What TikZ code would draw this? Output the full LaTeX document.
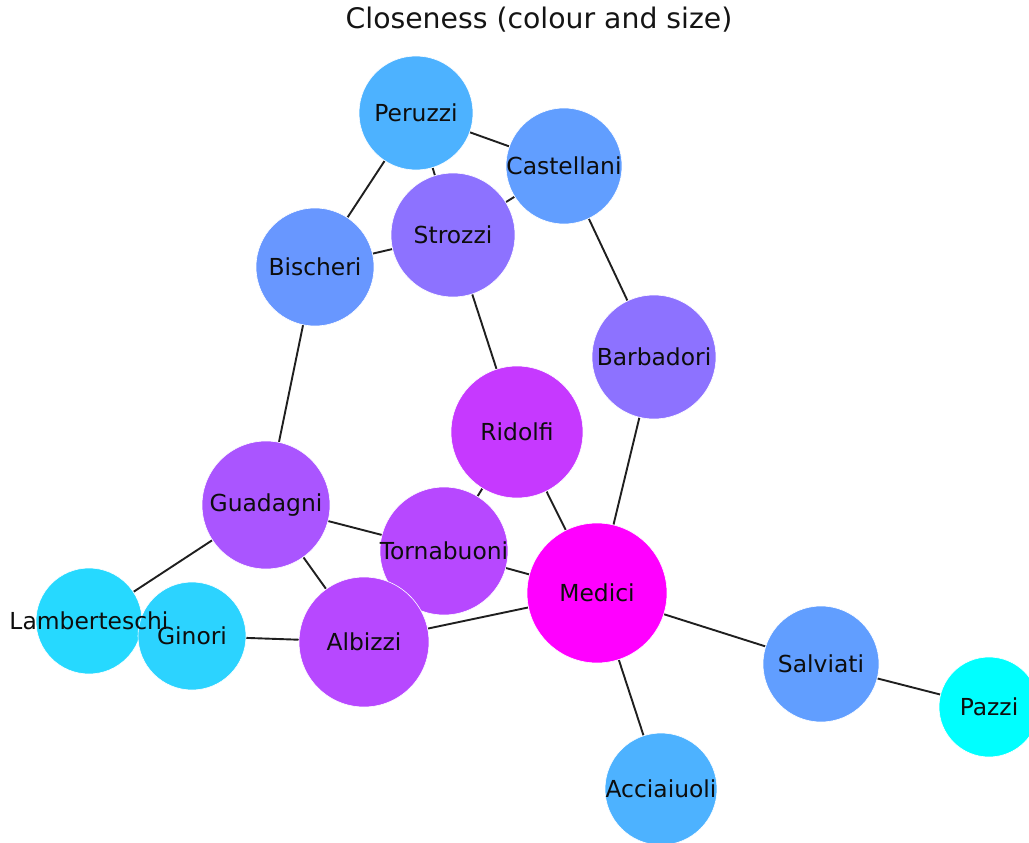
\documentclass[tikz,border=0pt]{standalone}
\usepackage{fontspec}
\setmainfont{DejaVu Sans}
\usetikzlibrary{backgrounds}

% node colours from the "cool" colour map (cyan -> magenta)
\definecolor{cAcciaiuoli}{RGB}{77,178,255}
\definecolor{cAlbizzi}{RGB}{183,72,255}
\definecolor{cBarbadori}{RGB}{141,114,255}
\definecolor{cBischeri}{RGB}{104,151,255}
\definecolor{cCastellani}{RGB}{97,158,255}
\definecolor{cGinori}{RGB}{44,211,255}
\definecolor{cGuadagni}{RGB}{170,85,255}
\definecolor{cLamberteschi}{RGB}{38,217,255}
\definecolor{cMedici}{RGB}{255,0,255}
\definecolor{cPazzi}{RGB}{0,255,255}
\definecolor{cPeruzzi}{RGB}{77,178,255}
\definecolor{cRidolfi}{RGB}{198,57,255}
\definecolor{cSalviati}{RGB}{97,158,255}
\definecolor{cStrozzi}{RGB}{141,114,255}
\definecolor{cTornabuoni}{RGB}{183,72,255}

\tikzset{
  fam/.style={circle, inner sep=0pt, minimum size=#1, draw=white, line width=0.6pt},
  famlabel/.style={inner sep=0pt, text=black!95, font=\fontsize{23.4}{28}\selectfont},
  edge/.style={line width=1.9pt, black!88},
}

\begin{document}
\begin{tikzpicture}[x=1pt, y=-1pt]
\useasboundingbox (0,0) rectangle (1029,843);

% title
\node[inner sep=0pt, font=\fontsize{28.3}{34}\selectfont, text=black!92] (title) at (539,20) {Closeness (colour and size)};

% family circles
\node[fam=112pt, fill=cAcciaiuoli]   (Acciaiuoli)   at (661,789) {};
\node[fam=140pt, fill=cMedici]       (Medici)       at (597,593) {};
\node[fam=116pt, fill=cCastellani]   (Castellani)   at (564,166) {};
\node[fam=114pt, fill=cPeruzzi]      (Peruzzi)      at (416,113) {};
\node[fam=124pt, fill=cStrozzi]      (Strozzi)      at (453,235) {};
\node[fam=124pt, fill=cBarbadori]    (Barbadori)    at (654,357) {};
\node[fam=132pt, fill=cRidolfi]      (Ridolfi)      at (517,432) {};
\node[fam=128pt, fill=cTornabuoni]   (Tornabuoni)   at (444,551) {};
\node[fam=130pt, fill=cAlbizzi]      (Albizzi)      at (364,642) {};
\node[fam=116pt, fill=cSalviati]     (Salviati)     at (821,664) {};
\node[fam=100pt, fill=cPazzi]        (Pazzi)        at (989,707) {};
\node[fam=118pt, fill=cBischeri]     (Bischeri)     at (315,267) {};
\node[fam=128pt, fill=cGuadagni]     (Guadagni)     at (266,505) {};
\node[fam=106pt, fill=cLamberteschi] (Lamberteschi) at (89,621) {};
\node[fam=108pt, fill=cGinori]       (Ginori)       at (192,636) {};

% marriage ties, kept behind the circles
\begin{scope}[on background layer]
\draw[edge] (Peruzzi) -- (Castellani);
\draw[edge] (Peruzzi) -- (Strozzi);
\draw[edge] (Peruzzi) -- (Bischeri);
\draw[edge] (Castellani) -- (Strozzi);
\draw[edge] (Castellani) -- (Barbadori);
\draw[edge] (Strozzi) -- (Bischeri);
\draw[edge] (Strozzi) -- (Ridolfi);
\draw[edge] (Bischeri) -- (Guadagni);
\draw[edge] (Barbadori) -- (Medici);
\draw[edge] (Ridolfi) -- (Medici);
\draw[edge] (Ridolfi) -- (Tornabuoni);
\draw[edge] (Guadagni) -- (Tornabuoni);
\draw[edge] (Guadagni) -- (Albizzi);
\draw[edge] (Guadagni) -- (Lamberteschi);
\draw[edge] (Tornabuoni) -- (Medici);
\draw[edge] (Albizzi) -- (Medici);
\draw[edge] (Albizzi) -- (Ginori);
\draw[edge] (Medici) -- (Salviati);
\draw[edge] (Medici) -- (Acciaiuoli);
\draw[edge] (Salviati) -- (Pazzi);
\end{scope}

% labels on top of every circle
\foreach \n in {Acciaiuoli,Medici,Castellani,Peruzzi,Strozzi,Barbadori,Ridolfi,
  Tornabuoni,Albizzi,Salviati,Pazzi,Bischeri,Guadagni,Lamberteschi,Ginori}
  \node[famlabel] at (\n) {\n};
\end{tikzpicture}
\end{document}
